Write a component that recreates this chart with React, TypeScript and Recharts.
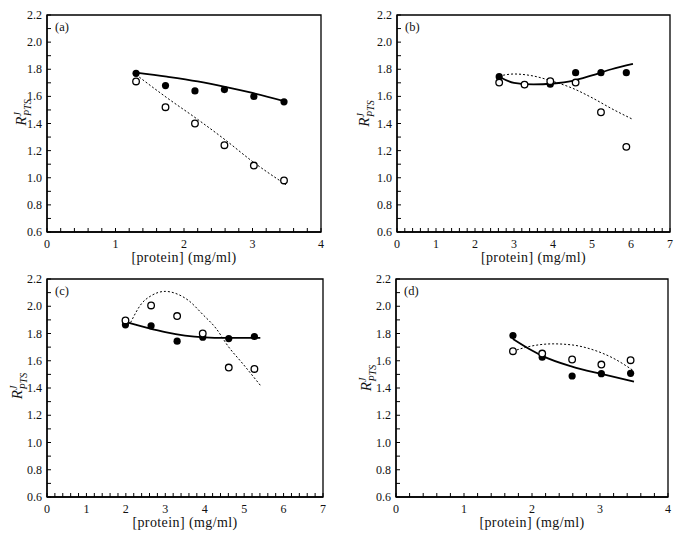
import React from 'react';
import { ScatterChart, Scatter, XAxis, YAxis, ReferenceArea } from 'recharts';

const FONT = '"Liberation Serif", "Times New Roman", "DejaVu Serif", serif';

// panel (a)
const aX = [1.3, 1.73, 2.16, 2.59, 3.02, 3.46];
const aFilled = [1.77, 1.68, 1.64, 1.65, 1.6, 1.56];
const aOpen = [1.71, 1.52, 1.4, 1.24, 1.09, 0.98];
const aSolidX = [1.3, 1.75, 2.2, 2.6, 3.0, 3.5];
const aSolidY = [1.775, 1.745, 1.71, 1.67, 1.625, 1.56];
const aDotX = [1.3, 1.75, 2.2, 2.6, 3.0, 3.5];
const aDotY = [1.76, 1.59, 1.43, 1.28, 1.12, 0.945];

// panel (b)
const bX = [2.62, 3.27, 3.93, 4.58, 5.23, 5.88];
const bFilled = [1.745, 1.687, 1.69, 1.775, 1.775, 1.775];
const bOpen = [1.702, 1.687, 1.712, 1.702, 1.483, 1.228];
const bSolidX = [2.62, 3.0, 3.5, 4.0, 4.5, 5.0, 5.5, 6.05];
const bSolidY = [1.745, 1.7, 1.688, 1.695, 1.715, 1.755, 1.8, 1.84];
const bDotX = [2.62, 3.0, 3.5, 4.0, 4.5, 5.0, 5.5, 6.05];
const bDotY = [1.75, 1.765, 1.75, 1.71, 1.66, 1.59, 1.51, 1.43];

// panel (c)
const cX = [1.99, 2.64, 3.3, 3.95, 4.61, 5.26];
const cFilled = [1.864, 1.856, 1.744, 1.773, 1.763, 1.778];
const cOpen = [1.896, 2.006, 1.928, 1.8, 1.55, 1.54];
const cSolidX = [1.99, 2.5, 3.0, 3.5, 4.0, 4.5, 5.0, 5.41];
const cSolidY = [1.885, 1.845, 1.81, 1.785, 1.772, 1.768, 1.768, 1.768];
const cDotX = [2.12, 2.4, 2.64, 3.0, 3.3, 3.6, 3.95, 4.28, 4.61, 4.96, 5.41];
const cDotY = [1.88, 2.02, 2.077, 2.109, 2.09, 2.04, 1.94, 1.84, 1.7, 1.58, 1.42];

// panel (d)
const dX = [1.72, 2.15, 2.59, 3.02, 3.45];
const dFilled = [1.785, 1.626, 1.488, 1.505, 1.508];
const dOpen = [1.67, 1.653, 1.609, 1.572, 1.604];
const dSolidX = [1.72, 2.0, 2.15, 2.59, 3.02, 3.5];
const dSolidY = [1.76, 1.675, 1.636, 1.557, 1.503, 1.447];
const dDotX = [1.72, 1.92, 2.31, 2.59, 2.9, 3.19, 3.49];
const dDotY = [1.67, 1.7, 1.724, 1.716, 1.68, 1.62, 1.528];

const Y_MIN = 0.6;
const Y_MAX = 2.2;

const zip = (xs: number[], ys: number[]) => xs.map((x, i) => ({ x, y: ys[i] }));

// minor ticks: every 0.2 on x, every 0.1 on y
const steps = (from: number, to: number, step: number) => {
  const out: number[] = [];
  const n = Math.round((to - from) / step);
  for (let i = 0; i <= n; i++) out.push(Number((from + i * step).toFixed(2)));
  return out;
};
const yTicks = steps(Y_MIN, Y_MAX, 0.1);

const isMult = (v: number, m: number) => Math.abs(v / m - Math.round(v / m)) < 1e-6;

const textStyle = { fontFamily: FONT, fill: '#111' };

const XTick = (props: any) => {
  const { x, y, payload } = props;
  const v = payload.value;
  if (!isMult(v, 1)) return <g />;
  return (
    <text x={x} y={y + 16} textAnchor="middle" fontSize={12} style={textStyle}>
      {Math.round(v)}
    </text>
  );
};

const YTick = (props: any) => {
  const { x, y, payload } = props;
  const v = payload.value;
  if (!isMult(v, 0.2)) return <g />;
  return (
    <text x={x - 5} y={y + 4} textAnchor="end" fontSize={12} style={textStyle}>
      {v.toFixed(1)}
    </text>
  );
};

const FilledDot = (props: any) => <circle cx={props.cx} cy={props.cy} r={3.6} fill="#000" />;
const OpenDot = (props: any) => (
  <circle cx={props.cx} cy={props.cy} r={3.3} fill="#fff" stroke="#000" strokeWidth={1.3} />
);
const NoDot = () => <g />;

interface PanelProps {
  letter: string;
  left: number;
  top: number;
  width: number;
  height: number;
  margin: { top: number; right: number; bottom: number; left: number };
  xMax: number;
  xs: number[];
  filled: number[];
  open: number[];
  solid: { x: number; y: number }[];
  dotted: { x: number; y: number }[];
  labelDx: number;
  labelDy: number;
}

function Panel(p: PanelProps) {
  const xTicks = steps(0, p.xMax, 0.2);
  const yLabel = (props: any) => {
    const vb = props.viewBox;
    const bx = vb.x + vb.width + p.labelDx;
    const cy = vb.y + vb.height / 2 + p.labelDy;
    return (
      <text
        x={bx}
        y={cy}
        transform={`rotate(-90 ${bx} ${cy})`}
        textAnchor="middle"
        fontStyle="italic"
        fontSize={15}
        style={textStyle}
      >
        R
        <tspan dy={-5} fontSize={10}>J</tspan>
        <tspan dx={-4} dy={10} fontSize={10}>PTS</tspan>
      </text>
    );
  };
  const xLabel = (props: any) => {
    const vb = props.viewBox;
    return (
      <text
        x={vb.x + vb.width / 2}
        y={vb.y + 30}
        textAnchor="middle"
        fontSize={14}
        letterSpacing={0.4}
        style={textStyle}
      >
        [protein] (mg/ml)
      </text>
    );
  };
  const letterLabel = (props: any) => {
    const vb = props.viewBox;
    return (
      <text x={vb.x + 8} y={vb.y + 16} fontSize={12.5} style={textStyle}>
        {p.letter}
      </text>
    );
  };
  const axisLine = { stroke: '#000', strokeWidth: 1.3 };
  const tickLine = { stroke: '#000', strokeWidth: 1 };

  return (
    <div style={{ position: 'absolute', left: p.left, top: p.top }}>
      <ScatterChart width={p.width} height={p.height} margin={p.margin}>
        <XAxis
          type="number"
          dataKey="x"
          domain={[0, p.xMax]}
          ticks={xTicks}
          interval={0}
          tickSize={-4}
          tickMargin={4}
          tick={XTick}
          tickLine={tickLine}
          axisLine={axisLine}
          height={30}
          allowDataOverflow
          label={xLabel}
        />
        <YAxis
          type="number"
          dataKey="y"
          domain={[Y_MIN, Y_MAX]}
          ticks={yTicks}
          interval={0}
          tickSize={-4}
          tickMargin={4}
          tick={YTick}
          tickLine={tickLine}
          axisLine={axisLine}
          width={37}
          allowDataOverflow
          label={yLabel}
        />
        <ReferenceArea
          x1={0}
          x2={p.xMax}
          y1={Y_MIN}
          y2={Y_MAX}
          fill="none"
          fillOpacity={0}
          stroke="#000"
          strokeWidth={1.3}
          ifOverflow="visible"
          label={letterLabel}
        />
        <Scatter
          data={p.solid}
          line={{ stroke: '#000', strokeWidth: 1.8 }}
          lineJointType="monotoneX"
          shape={NoDot}
          isAnimationActive={false}
        />
        <Scatter
          data={p.dotted}
          line={{ stroke: '#000', strokeWidth: 1, strokeDasharray: '2 2' }}
          lineJointType="monotoneX"
          shape={NoDot}
          isAnimationActive={false}
        />
        <Scatter data={zip(p.xs, p.filled)} shape={FilledDot} isAnimationActive={false} />
        <Scatter data={zip(p.xs, p.open)} shape={OpenDot} isAnimationActive={false} />
      </ScatterChart>
    </div>
  );
}

export default function App() {
  return (
    <div style={{ position: 'absolute', left: 0, top: 0, width: 681, height: 539, background: '#fff' }}>
      <Panel
        letter="(a)"
        left={0}
        top={0}
        width={340}
        height={270}
        margin={{ top: 15, right: 19, bottom: 8, left: 10 }}
        xMax={4}
        xs={aX}
        filled={aFilled}
        open={aOpen}
        solid={zip(aSolidX, aSolidY)}
        dotted={zip(aDotX, aDotY)}
        labelDx={-21}
        labelDy={-11}
      />
      <Panel
        letter="(b)"
        left={340}
        top={0}
        width={341}
        height={270}
        margin={{ top: 15, right: 11, bottom: 8, left: 20 }}
        xMax={7}
        xs={bX}
        filled={bFilled}
        open={bOpen}
        solid={zip(bSolidX, bSolidY)}
        dotted={zip(bDotX, bDotY)}
        labelDx={-28}
        labelDy={-10}
      />
      <Panel
        letter="(c)"
        left={0}
        top={270}
        width={340}
        height={269}
        margin={{ top: 9, right: 17, bottom: 12, left: 10 }}
        xMax={7}
        xs={cX}
        filled={cFilled}
        open={cOpen}
        solid={zip(cSolidX, cSolidY)}
        dotted={zip(cDotX, cDotY)}
        labelDx={-25}
        labelDy={-2}
      />
      <Panel
        letter="(d)"
        left={340}
        top={270}
        width={341}
        height={269}
        margin={{ top: 9, right: 13, bottom: 12, left: 19 }}
        xMax={4}
        xs={dX}
        filled={dFilled}
        open={dOpen}
        solid={zip(dSolidX, dSolidY)}
        dotted={zip(dDotX, dDotY)}
        labelDx={-25}
        labelDy={-10}
      />
    </div>
  );
}
